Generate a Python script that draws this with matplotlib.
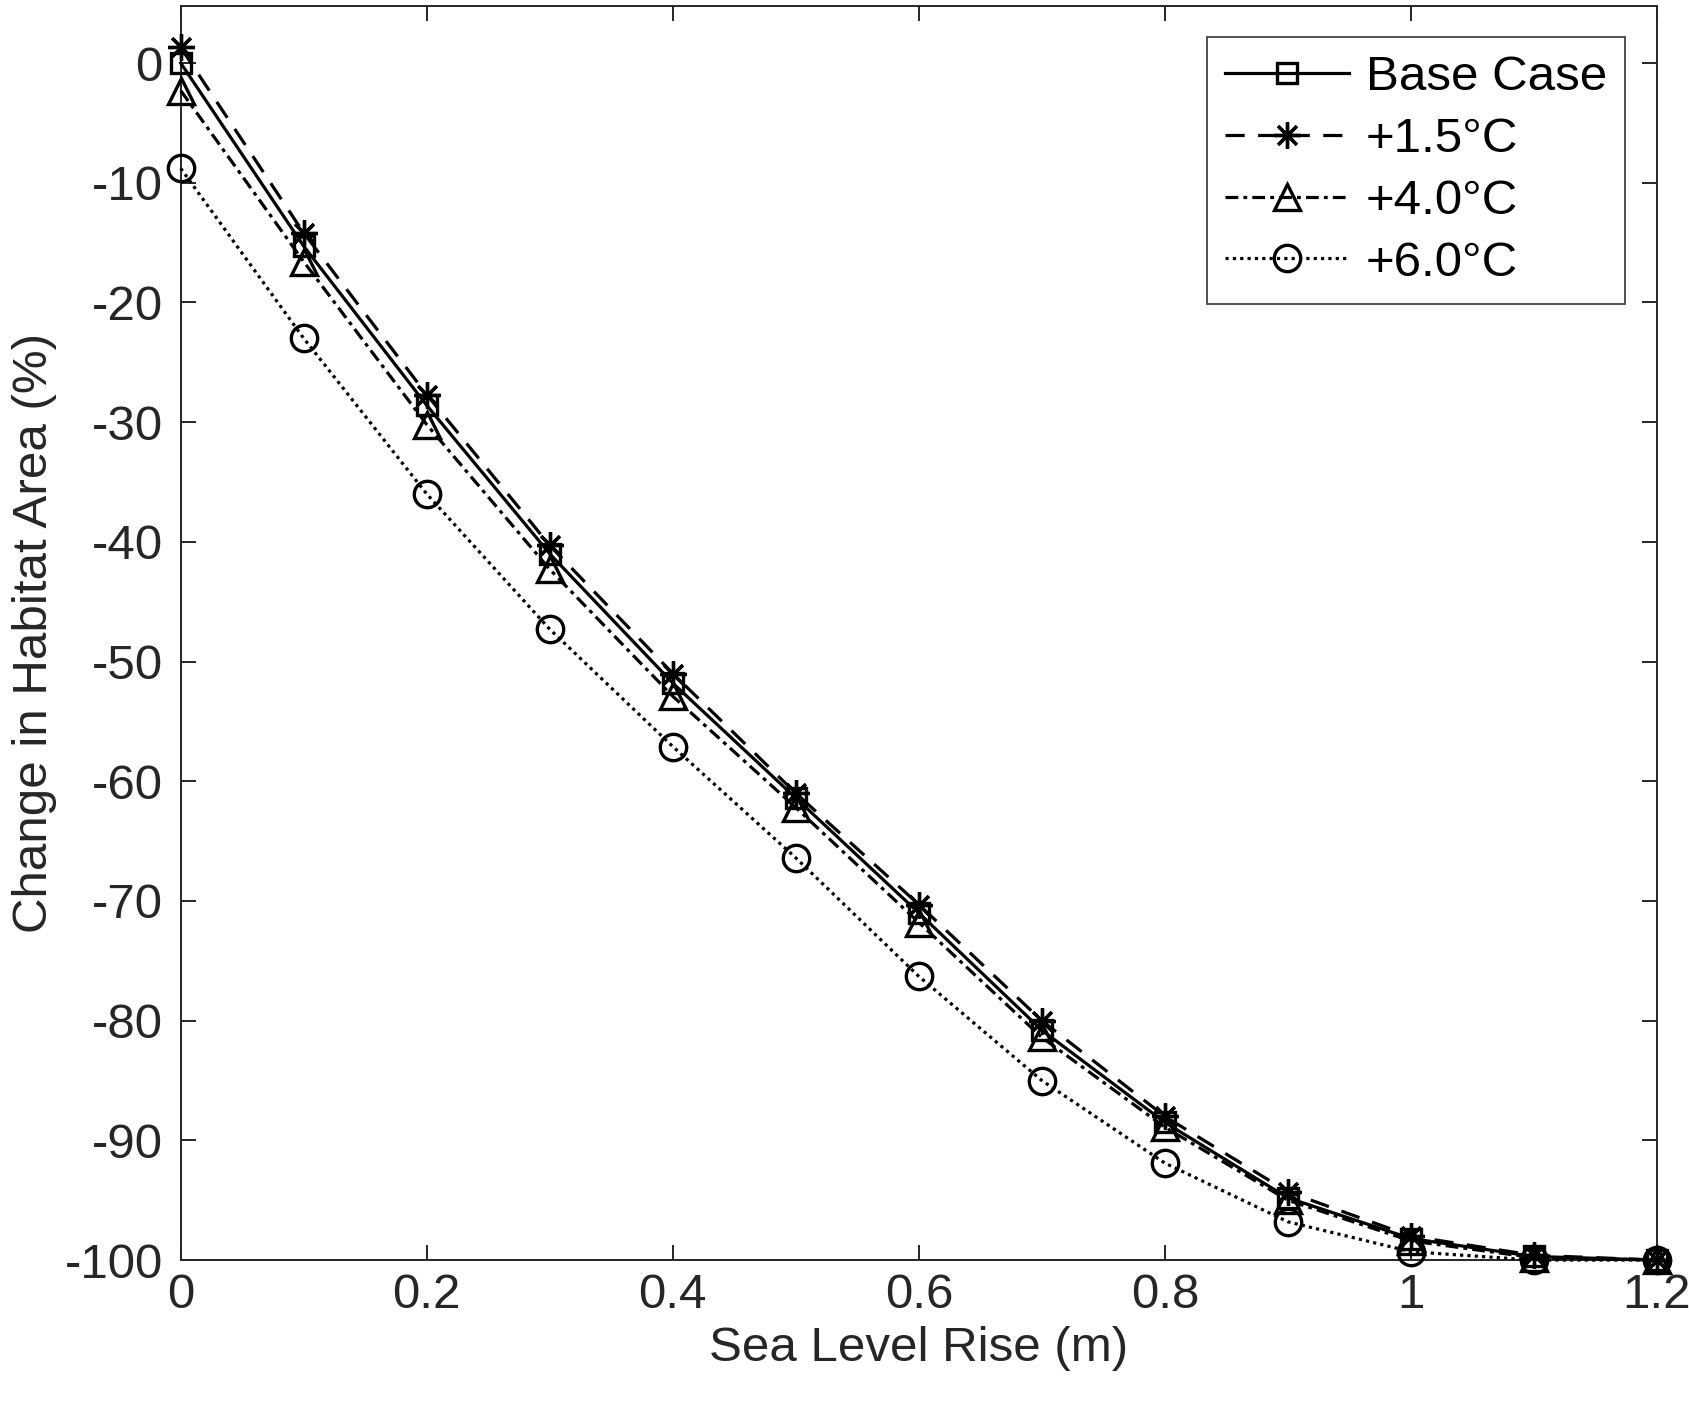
import matplotlib
matplotlib.use("Agg")
import matplotlib.pyplot as plt

# Sea level rise (m) and change in habitat area (%) per scenario
slr = [0.0, 0.1, 0.2, 0.3, 0.4, 0.5, 0.6, 0.7, 0.8, 0.9, 1.0, 1.1, 1.2]
base_case = [0.0, -15.3, -28.6, -41.0, -51.8, -61.4, -71.0, -80.8, -88.5, -94.8, -98.2, -99.7, -100.0]
plus_1_5 = [1.3, -14.2, -27.7, -40.3, -51.0, -61.0, -70.3, -80.0, -88.0, -94.3, -98.0, -99.6, -100.0]
plus_4_0 = [-2.3, -16.6, -30.2, -42.3, -52.9, -62.2, -71.8, -81.4, -88.9, -95.0, -98.4, -99.8, -100.0]
plus_6_0 = [-8.8, -23.0, -36.0, -47.3, -57.1, -66.4, -76.3, -85.0, -91.9, -96.8, -99.3, -100.0, -100.0]

labels = ["Base Case", "+1.5°C", "+4.0°C", "+6.0°C"]

plt.rcParams["font.family"] = ["Liberation Sans", "DejaVu Sans"]
plt.rcParams["axes.unicode_minus"] = False
TXT = "#262626"
FS = 35.5

fig = plt.figure(figsize=(16.89, 14.01), dpi=100)
ax = fig.add_axes([0.107, 0.1006, 0.874, 0.8954])

# markers at the axis edges are drawn whole, as in the original
common = dict(color="black", lw=2.3, markeredgewidth=2.4, markerfacecolor="none",
              clip_on=False, zorder=3)
ax.plot(slr, base_case, "-", marker="s", markersize=14, label=labels[0], **common)
ax.plot(slr, plus_1_5, marker=(8, 2, 0), markersize=19, linestyle=(0, (6, 4.2)),
        label=labels[1], **common)
ax.plot(slr, plus_4_0, marker="^", markersize=19,
        linestyle=(0, (4, 1.6, 1.2, 1.6)), label=labels[2], **common)
ax.plot(slr, plus_6_0, marker="o", markersize=19, linestyle=(0, (1, 1.3)),
        label=labels[3], **common)

ax.set_xlim(0, 1.2)
ax.set_ylim(-100, 4.8)
ax.set_xticks([0, 0.2, 0.4, 0.6, 0.8, 1.0, 1.2])
ax.set_xticklabels(["0", "0.2", "0.4", "0.6", "0.8", "1", "1.2"])
ax.set_yticks(range(-100, 1, 10))

ax.tick_params(direction="in", length=10.7, width=1.4, top=True, right=True,
               labelsize=FS, colors=TXT, pad=9)
ax.tick_params(axis="y", pad=13)
for s in ax.spines.values():
    s.set_color(TXT)
    s.set_linewidth(1.4)

ax.set_xlabel("Sea Level Rise (m)", fontsize=FS, color=TXT, labelpad=6)
ax.set_ylabel("Change in Habitat Area (%)", fontsize=FS, color=TXT, labelpad=5)

leg = ax.legend(loc="upper right", fontsize=FS, frameon=True, fancybox=False,
                handlelength=2.5, borderaxespad=0.64, labelspacing=0.34,
                borderpad=0.37, handletextpad=0.35, edgecolor=TXT)
leg.get_frame().set_linewidth(1.4)
leg.set_zorder(5)

fig.savefig("out.png", dpi=100)
